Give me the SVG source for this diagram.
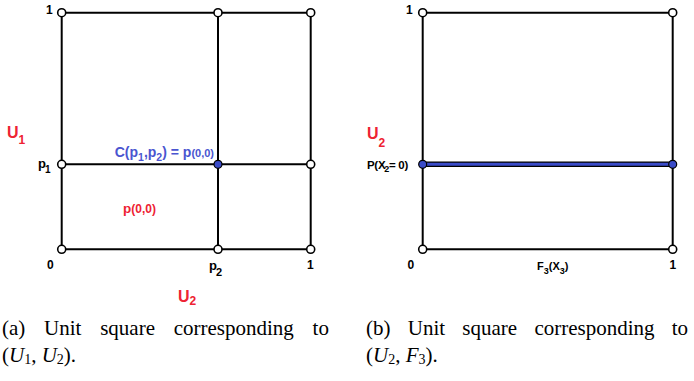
<svg xmlns="http://www.w3.org/2000/svg" width="694" height="381" viewBox="0 0 694 381">
<style>
.ln{stroke:#000;stroke-width:2;fill:none}
.o{fill:#fff;stroke:#000;stroke-width:1.6}
.f{fill:#3a4bc8;stroke:#000;stroke-width:1.2}
.t{font-family:"Liberation Sans",Arial,sans-serif;font-weight:bold;fill:#000}
.r{fill:#ee2233}
.b{fill:#4a55d0}
.cap{font-family:"Liberation Serif","Times New Roman",serif;font-size:21px;fill:#000}
</style>
<g id="connectors">
<line class="ln" x1="61.7" y1="12.7" x2="310.7" y2="12.7"/>
<line class="ln" x1="61.7" y1="249.3" x2="310.7" y2="249.3"/>
<line class="ln" x1="61.7" y1="164.3" x2="310.7" y2="164.3"/>
<line class="ln" x1="61.7" y1="12.7" x2="61.7" y2="249.3"/>
<line class="ln" x1="218" y1="12.7" x2="218" y2="249.3"/>
<line class="ln" x1="310.7" y1="12.7" x2="310.7" y2="249.3"/>
<line class="ln" x1="422.7" y1="12.7" x2="672.7" y2="12.7"/>
<line class="ln" x1="422.7" y1="249.3" x2="672.7" y2="249.3"/>
<line class="ln" x1="422.7" y1="12.7" x2="422.7" y2="249.3"/>
<line class="ln" x1="672.7" y1="12.7" x2="672.7" y2="249.3"/>
<line x1="422.7" y1="164.3" x2="672.7" y2="164.3" stroke="#000" stroke-width="5.5"/>
<line x1="422.7" y1="164.3" x2="672.7" y2="164.3" stroke="#3a4bc8" stroke-width="3"/>
</g>
<g id="a-nodes">
<circle id="a00" class="o" cx="61.7" cy="249.3" r="4"/>
<circle id="a10" class="o" cx="218" cy="249.3" r="4"/>
<circle id="a20" class="o" cx="310.7" cy="249.3" r="4"/>
<circle id="a01" class="o" cx="61.7" cy="164.3" r="4"/>
<circle id="a11" class="f" cx="218" cy="164.3" r="4"/>
<circle id="a21" class="o" cx="310.7" cy="164.3" r="4"/>
<circle id="a02" class="o" cx="61.7" cy="12.7" r="4"/>
<circle id="a12" class="o" cx="218" cy="12.7" r="4"/>
<circle id="a22" class="o" cx="310.7" cy="12.7" r="4"/>
</g>
<g id="b-nodes">
<circle id="b00" class="o" cx="422.7" cy="249.3" r="4"/>
<circle id="b10" class="o" cx="672.7" cy="249.3" r="4"/>
<circle id="b01" class="f" cx="422.7" cy="164.3" r="4"/>
<circle id="b11" class="f" cx="672.7" cy="164.3" r="4"/>
<circle id="b02" class="o" cx="422.7" cy="12.7" r="4"/>
<circle id="b12" class="o" cx="672.7" cy="12.7" r="4"/>
</g>
<g id="a-labels" class="t">
<text x="46" y="14" font-size="12">1</text>
<text class="r" x="7" y="137.5" font-size="16">U<tspan font-size="12" dy="6.5">1</tspan></text>
<text x="38" y="168" font-size="13">p<tspan font-size="10" dx="-1" dy="5">1</tspan></text>
<text class="b" x="214" y="157" font-size="14" text-anchor="end">C(p<tspan font-size="10.5" dy="4">1</tspan><tspan dy="-4">,p</tspan><tspan font-size="10.5" dy="4">2</tspan><tspan dy="-4">) = p</tspan><tspan font-size="11">(0,0)</tspan></text>
<text class="r" x="123" y="213" font-size="13.5">p<tspan font-size="12">(0,0)</tspan></text>
<text x="47" y="268.5" font-size="12">0</text>
<text x="209" y="270" font-size="13">p<tspan font-size="11" dx="-1" dy="6">2</tspan></text>
<text x="307" y="268.5" font-size="12">1</text>
<text class="r" x="178" y="302" font-size="16">U<tspan font-size="12" dy="3">2</tspan></text>
</g>
<g id="b-labels" class="t">
<text x="406" y="14" font-size="12">1</text>
<text class="r" x="367" y="138.5" font-size="16">U<tspan font-size="12" dy="8">2</tspan></text>
<text x="367" y="169" font-size="11.5" letter-spacing="-0.3">P(X<tspan font-size="9" dx="-1" dy="3">2</tspan><tspan dy="-3">= 0)</tspan></text>
<text x="407.5" y="269" font-size="12">0</text>
<text x="537" y="270" font-size="11">F<tspan font-size="9" dy="4">3</tspan><tspan dy="-4">(X</tspan><tspan font-size="9" dy="4">3</tspan><tspan dy="-4">)</tspan></text>
<text x="669.5" y="269" font-size="12">1</text>
</g>
<g id="captions" class="cap">
<text x="2" y="335" word-spacing="13.5">(a) Unit square corresponding to</text>
<text x="2" y="361.5">(<tspan font-style="italic">U</tspan><tspan font-size="14" dy="2">1</tspan><tspan dy="-2">, </tspan><tspan font-style="italic">U</tspan><tspan font-size="14" dy="2">2</tspan><tspan dy="-2">).</tspan></text>
<text x="366" y="335" word-spacing="12">(b) Unit square corresponding to</text>
<text x="366" y="361.5">(<tspan font-style="italic">U</tspan><tspan font-size="14" dy="2">2</tspan><tspan dy="-2">, </tspan><tspan font-style="italic">F</tspan><tspan font-size="14" dy="2">3</tspan><tspan dy="-2">).</tspan></text>
</g>
</svg>
